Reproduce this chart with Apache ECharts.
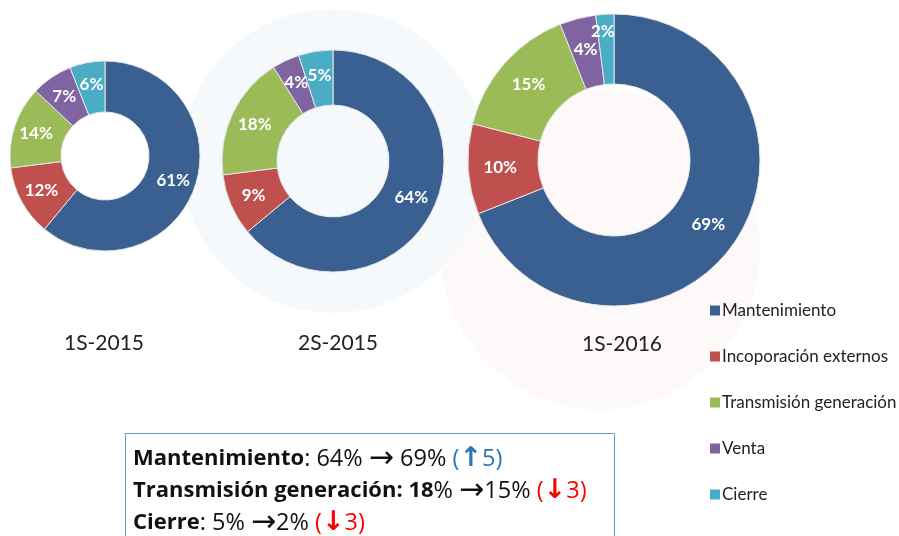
<!DOCTYPE html>
<html>
<head>
<meta charset="utf-8">
<script src="https://cdn.jsdelivr.net/npm/echarts@6/dist/echarts.min.js"></script>
<style>
html,body{margin:0;padding:0;background:#fff;}
#c{width:899px;height:536px;}
</style>
</head>
<body>
<div id="c"></div>
<script>
const categories = ['Mantenimiento', 'Incoporación externos', 'Transmisión generación', 'Venta', 'Cierre'];
const periods = ['1S-2015', '2S-2015', '1S-2016'];
const values1S2015 = [61, 12, 14, 7, 6];
const values2S2015 = [64, 9, 18, 4, 5];
const values1S2016 = [69, 10, 15, 4, 2];
const colors = ['#3A6092', '#C0504D', '#9BBB59', '#8064A2', '#4BACC6'];

const seriesValues = [values1S2015, values2S2015, values1S2016];
const centers = [[105, 156], [333, 161], [614, 160]];
const radii = [[44, 95], [56, 111], [76, 146]];
const labelPos = [[104, 343], [338, 343], [622, 344]];
const FONT = 'Lato, "Open Sans", sans-serif';
const BOXFONT = '"Open Sans", Lato, sans-serif';
const ARROWFONT = '"DejaVu Sans", sans-serif';

const chart = echarts.init(document.getElementById('c'));

const series = seriesValues.map((vals, i) => ({
  type: 'pie',
  name: periods[i],
  center: centers[i],
  radius: radii[i],
  startAngle: 90,
  clockwise: true,
  avoidLabelOverlap: false,
  minShowLabelAngle: 0,
  silent: true,
  animation: false,
  itemStyle: { borderColor: '#e6e6e6', borderWidth: 1 },
  label: {
    show: true,
    position: 'inside',
    formatter: '{c}%',
    color: '#fff',
    fontFamily: FONT,
    fontWeight: 'bold',
    fontSize: 17
  },
  labelLayout: { hideOverlap: false },
  labelLine: { show: false },
  data: categories.map((c, k) => {
    const item = { name: c, value: vals[k], itemStyle: { color: colors[k] } };
    if (i === 2 && k === 4) item.label = { offset: [-4, -15] };
    return item;
  })
}));

const periodTexts = periods.map((p, i) => ({
  type: 'text',
  x: labelPos[i][0],
  y: labelPos[i][1],
  style: { text: p, font: '21px ' + FONT, fill: '#222', align: 'center', verticalAlign: 'middle' },
  z: 10
}));

const mk = (size, weight, fill, fam) => ({ fontFamily: fam || BOXFONT, fontSize: size, fontWeight: weight, fill: fill, lineHeight: 32 });
const rich = {
  b: mk(22, 'bold', '#111'),
  n: mk(23.5, 'normal', '#111'),
  ar: mk(30, 'normal', '#111', ARROWFONT),
  bl: mk(23.5, 'normal', '#2E75B6'),
  bla: mk(27, 'bold', '#2E75B6', ARROWFONT),
  r: mk(23.5, 'normal', '#FF0000'),
  ra: mk(27, 'bold', '#FF0000', ARROWFONT)
};

chart.setOption({
  animation: false,
  backgroundColor: '#ffffff',
  legend: {
    orient: 'vertical',
    left: 705,
    top: 297,
    itemGap: 29,
    itemWidth: 10,
    itemHeight: 10,
    itemStyle: { borderWidth: 0 },
    icon: 'rect',
    textStyle: { fontFamily: FONT, fontSize: 17, color: '#222', padding: [0, 0, 0, -3] },
    data: categories
  },
  series: series,
  graphic: [
    { type: 'circle', shape: { cx: 333, cy: 161, r: 152 }, style: { fill: '#F5F9FC' }, z: -10, silent: true },
    { type: 'circle', shape: { cx: 600, cy: 250, r: 160 }, style: { fill: '#FEF9F9' }, z: -11, silent: true },
    ...periodTexts,
    {
      type: 'rect',
      shape: { x: 125.5, y: 433.5, width: 489, height: 120 },
      style: { fill: '#ffffff', stroke: '#5B9BD5', lineWidth: 1 },
      z: 5
    },
    {
      type: 'text',
      left: 133,
      top: 443,
      z: 10,
      style: {
        text: '{b|Mantenimiento}{n|: 64% }{ar|→}{n| 69% }{bl|(}{bla|↑}{bl|5)}\n' +
              '{b|Transmisión generación: 18}{n|% }{ar|→}{n|15% }{r|(}{ra|↓}{r|3)}\n' +
              '{b|Cierre}{n|: 5% }{ar|→}{n|2% }{r|(}{ra|↓}{r|3)}',
        font: '22px ' + BOXFONT,
        lineHeight: 32,
        rich: rich
      }
    }
  ]
});
</script>
</body>
</html>
